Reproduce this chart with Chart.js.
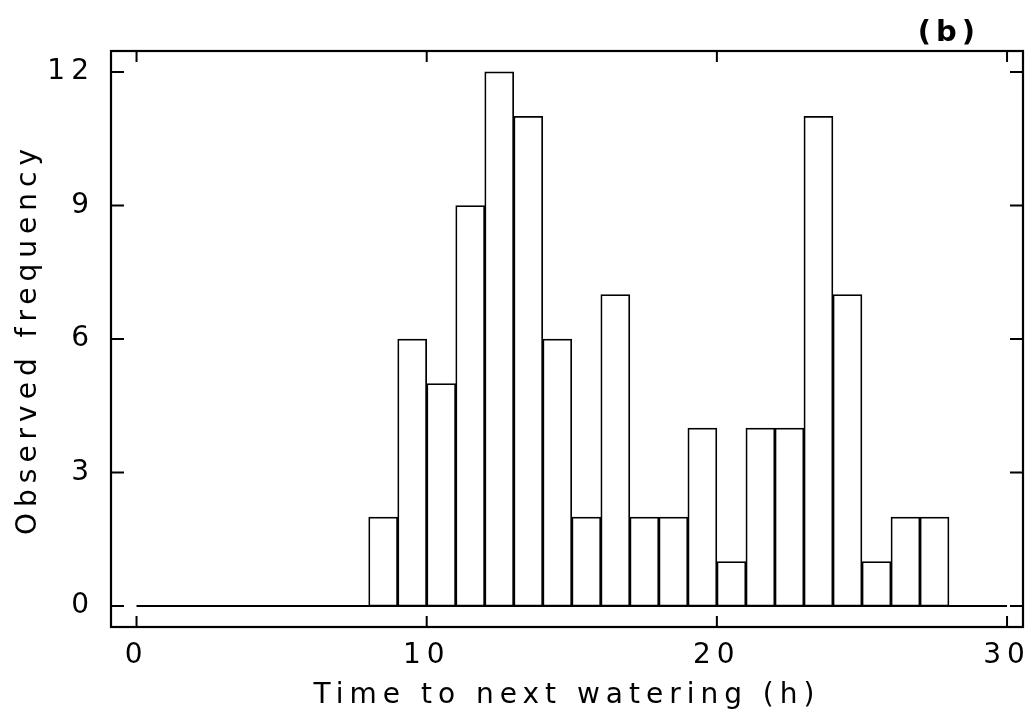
<!DOCTYPE html>
<html>
<head>
<meta charset="utf-8">
<script src="https://cdn.jsdelivr.net/npm/chart.js@4"></script>
<style>
  html, body { margin: 0; padding: 0; background: #fff; }
  #wrap { width: 1026px; height: 715px; }
</style>
</head>
<body>
<div id="wrap"><canvas id="hist"></canvas></div>
<script>
// histogram bins (start hour) and observed counts
const binStarts = [8, 9, 10, 11, 12, 13, 14, 15, 16, 17, 18, 19, 20, 21, 22, 23, 24, 25, 26, 27];
const counts    = [2, 6, 5, 9, 12, 11, 6, 2, 7, 2, 2, 4, 1, 4, 4, 11, 7, 1, 2, 2];
const xTicks = [0, 10, 20, 30];
const yTicks = [0, 3, 6, 9, 12];
// zero line across the time axis
const baseX = [0, 30];
const baseY = [0, 0];
const panelLabel = '(b)';

const FONT = 'DejaVu Sans';

// letter spacing for the plotter-like lettering
const spacing = {
  id: 'spacing',
  beforeUpdate(chart) { chart.ctx.letterSpacing = '6px'; },
  beforeDraw(chart) { chart.ctx.letterSpacing = '6px'; }
};

// frame, inward ticks and panel label
const frame = {
  id: 'frame',
  afterDraw(chart) {
    const { ctx, chartArea: a, scales } = chart;
    ctx.save();
    ctx.strokeStyle = '#000';
    ctx.lineWidth = 2.2;
    ctx.strokeRect(a.left, a.top, a.right - a.left, a.bottom - a.top);
    ctx.lineWidth = 2;
    ctx.beginPath();
    xTicks.forEach(v => {
      const px = scales.x.getPixelForValue(v);
      ctx.moveTo(px, a.bottom); ctx.lineTo(px, a.bottom - 11);
      ctx.moveTo(px, a.top); ctx.lineTo(px, a.top + 11);
    });
    yTicks.forEach(v => {
      const py = scales.y.getPixelForValue(v);
      ctx.moveTo(a.left, py); ctx.lineTo(a.left + 13, py);
      ctx.moveTo(a.right, py); ctx.lineTo(a.right - 13, py);
    });
    ctx.stroke();
    ctx.fillStyle = '#000';
    ctx.font = 'bold 29px ' + FONT;
    ctx.letterSpacing = '5px';
    ctx.textAlign = 'right';
    ctx.textBaseline = 'middle';
    ctx.fillText(panelLabel, 980, 33);
    ctx.restore();
  }
};

const ctx = document.getElementById('hist').getContext('2d');
new Chart(ctx, {
  data: {
    datasets: [
      {
        type: 'bar',
        data: binStarts.map((s, i) => ({ x: s + 0.5, y: counts[i] })),
        backgroundColor: '#fff',
        borderColor: '#000',
        borderWidth: 1.75,
        borderSkipped: false,
        barPercentage: 1,
        categoryPercentage: 1,
        order: 2
      },
      {
        type: 'line',
        data: baseX.map((x, i) => ({ x: x, y: baseY[i] })),
        borderColor: '#000',
        borderWidth: 2,
        pointRadius: 0,
        order: 1
      }
    ]
  },
  options: {
    responsive: true,
    maintainAspectRatio: false,
    animation: false,
    layout: { padding: { left: 8, right: 3, top: 51, bottom: 0 } },
    plugins: {
      legend: { display: false },
      tooltip: { enabled: false }
    },
    scales: {
      x: {
        type: 'linear',
        offset: false,
        min: -0.88,
        max: 30.55,
        afterBuildTicks: s => { s.ticks = xTicks.map(v => ({ value: v })); },
        afterFit: s => { s.height = 88; s.paddingLeft = 0; s.paddingRight = 0; },
        grid: { display: false },
        border: { display: false },
        ticks: { color: '#000', padding: 4, maxRotation: 0, font: { family: FONT, size: 28 } },
        title: {
          display: true,
          text: 'Time to next watering (h)',
          color: '#000',
          font: { family: FONT, size: 28 },
          padding: { top: 4, bottom: 2 }
        }
      },
      y: {
        min: -0.47,
        max: 12.47,
        afterBuildTicks: s => { s.ticks = yTicks.map(v => ({ value: v })); },
        afterFit: s => { s.width = 103; s.paddingTop = 0; s.paddingBottom = 0; },
        grid: { display: false },
        border: { display: false },
        ticks: { color: '#000', padding: 8, font: { family: FONT, size: 28 } },
        title: {
          display: true,
          text: 'Observed frequency',
          color: '#000',
          font: { family: FONT, size: 28 },
          padding: { top: 4, bottom: 0 }
        }
      }
    }
  },
  plugins: [spacing, frame]
});
</script>
</body>
</html>
